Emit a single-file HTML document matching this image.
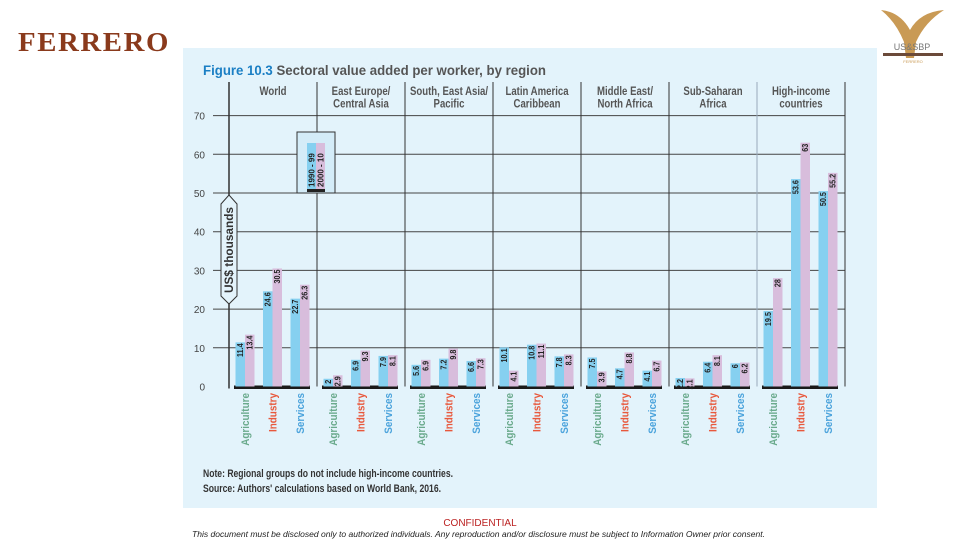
<!DOCTYPE html>
<html><head><meta charset="utf-8"><style>
html,body{margin:0;padding:0;background:#fff;width:960px;height:540px;overflow:hidden}
svg{display:block;font-family:"Liberation Sans Narrow","Liberation Sans",sans-serif}
</style></head><body>
<svg id="chart" width="960" height="540" viewBox="0 0 960 540">
<text x="18" y="51" font-family="Liberation Serif,serif" font-weight="bold" font-size="27" fill="#8a3a1c" letter-spacing="1.5" textLength="152" lengthAdjust="spacingAndGlyphs">FERRERO</text>
<g>
<path d="M881 10 Q900 12 910 30 Q920 12 944 10 Q925 22 916 42 L914 58 L906 58 L904 42 Q896 22 881 10Z" fill="#c99a55"/>
<text x="912" y="50" font-size="9" text-anchor="middle" fill="#777">US&amp;SBP</text>
<rect x="883" y="53" width="60" height="3" fill="#6b4a3a"/>
<text x="913" y="63" font-size="4" text-anchor="middle" fill="#c99a55">FERRERO</text>
</g>
<rect x="183" y="48" width="694" height="460" fill="#e3f3fb"/>
<text x="203" y="75" font-size="14" font-weight="bold" fill="#1b7fc4" textLength="343" lengthAdjust="spacingAndGlyphs">Figure 10.3 <tspan fill="#555">Sectoral value added per worker, by region</tspan></text>
<g id="grid"></g><g id="bars"></g><g id="labels"></g>
<g>
<rect x="297" y="132" width="38" height="61" fill="#d4ecf8" stroke="#333" stroke-width="1"/>
<rect x="307" y="143" width="9" height="49" fill="#86d0f0"/>
<rect x="316" y="143" width="9" height="49" fill="#d8bddc"/>
<rect x="307" y="189" width="18" height="3" fill="#222"/>
<text transform="translate(314.5,187) rotate(-90)" font-size="8" font-weight="bold" fill="#222">1990 - 99</text>
<text transform="translate(323.5,187) rotate(-90)" font-size="8" font-weight="bold" fill="#222">2000 - 10</text>
</g>
<g>
<path d="M221 204 L229 195 L237 204 L237 296 L229 304 L221 296Z" fill="#e3f3fb" stroke="#333"/>
<text transform="translate(233,250) rotate(-90)" font-size="12" font-weight="bold" text-anchor="middle" fill="#333" textLength="86" lengthAdjust="spacingAndGlyphs">US$ thousands</text>
</g>
<text x="203" y="477" font-size="11" font-weight="bold" fill="#333" textLength="250" lengthAdjust="spacingAndGlyphs">Note: Regional groups do not include high-income countries.</text>
<text x="203" y="492" font-size="11" font-weight="bold" fill="#333" textLength="238" lengthAdjust="spacingAndGlyphs">Source: Authors' calculations based on World Bank, 2016.</text>
<text x="480" y="526" font-family="Liberation Sans,sans-serif" font-size="10" text-anchor="middle" fill="#b22">CONFIDENTIAL</text>
<text x="192" y="537" font-family="Liberation Sans,sans-serif" font-size="8" font-style="italic" fill="#222" textLength="573" lengthAdjust="spacingAndGlyphs">This document must be disclosed only to authorized individuals. Any reproduction and/or disclosure must be subject to Information Owner prior consent.</text>
</svg>
<script>
const regions=["World","East Europe/|Central Asia","South, East Asia/|Pacific","Latin America|Caribbean","Middle East/|North Africa","Sub-Saharan|Africa","High-income|countries"];
const sectors=["Agriculture","Industry","Services"];
const values1990=[[11.4,24.6,22.7],[2,6.9,7.9],[5.6,7.2,6.6],[10.1,10.8,7.8],[7.5,4.7,4.1],[2.2,6.4,6],[19.5,53.6,50.5]];
const values2000=[[13.4,30.5,26.3],[2.9,9.3,8.1],[6.9,9.8,7.3],[4.1,11.1,8.3],[3.9,8.8,6.7],[2.1,8.1,6.2],[28,63,55.2]];
const yTicks=[0,10,20,30,40,50,60,70];
const NS="http://www.w3.org/2000/svg";
const X0=229,GW=88,Y0=386.5,K=3.87;
const y=v=>Y0-v*K;
const gx=i=>X0+i*GW;
const sx=(g,s)=>gx(g)+16+s*27.5;
function mk(t,a,p){const e=document.createElementNS(NS,t);for(const k in a)e.setAttribute(k,a[k]);p.appendChild(e);return e;}
const grid=document.getElementById('grid'),bars=document.getElementById('bars'),labels=document.getElementById('labels');
yTicks.forEach(t=>{
 if(t>0){const l=mk('line',{x1:213,x2:gx(7),y1:y(t),y2:y(t),stroke:'#444','stroke-width':1},grid);
 
 }
 const tx=mk('text',{x:205,y:y(t)+4,'font-size':10,'text-anchor':'end',fill:'#444'},grid);
 tx.textContent=t;
 
 
});
for(let i=0;i<=7;i++){
 const l=mk('line',{x1:gx(i),x2:gx(i),y1:82,y2:i==0?Y0+2:Y0,stroke:i==6?'#9ab':'#333','stroke-width':i==0?1.5:1},grid);
 
 
}
const catCol=["#6aaa8c","#e8583c","#4ba3dc"];
regions.forEach((r,g)=>{
 const parts=r.split('|');
 parts.forEach((p,j)=>{
  const t=mk('text',{transform:`translate(${gx(g)+GW/2},${95+j*12.5}) scale(0.8,1)`,'font-size':12,'font-weight':'bold','text-anchor':'middle',fill:'#555'},labels);
  t.textContent=p;
  
  
 });
 const base=mk('rect',{x:gx(g)+5,y:Y0-1,width:GW-12,height:3.5,fill:'#1a1a1a'},bars);
 
 
 sectors.forEach((s,k)=>{
  const cx=sx(g,k);
  [[values1990,'#86d0f0',-9.5],[values2000,'#d8bddc',0]].forEach(([arr,col,off],si)=>{
   const v=arr[g][k];
   const b=mk('rect',{x:cx+off,y:y(v),width:9.5,height:v*K,fill:col},bars);
   
   
   const t=mk('text',{transform:`translate(${cx+off+7.5},${y(v)+1}) rotate(-90) scale(0.85,1)`,'font-size':8.5,'font-weight':'bold','text-anchor':'end',fill:'#222'},labels);
   t.textContent=v;
   
   
  });
  const c=mk('text',{transform:`translate(${cx+4},${393}) rotate(-90) scale(0.9,1)`,'font-size':11,'font-weight':'bold','text-anchor':'end',fill:catCol[k]},labels);
  c.textContent=s;
  
  
 });
});
</script>
</body></html>
